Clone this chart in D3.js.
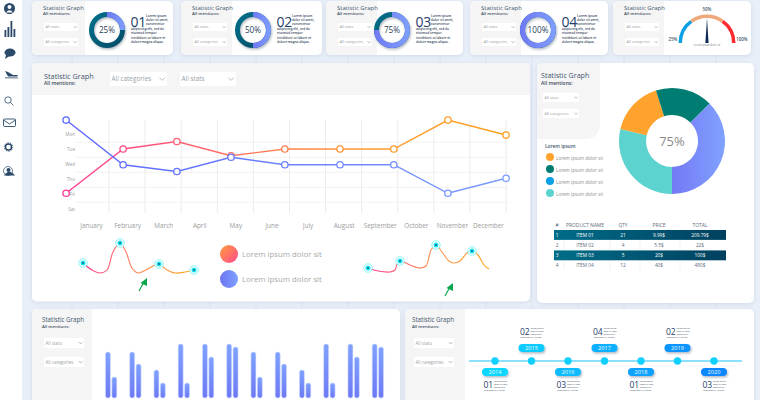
<!DOCTYPE html>
<html>
<head>
<meta charset="utf-8">
<script src="https://cdnjs.cloudflare.com/ajax/libs/d3/7.8.5/d3.min.js"></script>
<style>
html, body { margin: 0; padding: 0; background: #e9eff8; overflow: hidden; }
text { font-family: "Open Sans", sans-serif; }
</style>
</head>
<body>
<div id="chart"></div>
<script>
// line chart
const months = ["January","February","March","April","May","June","July","August","September","October","November","December"];
const days = ["Mon","Tue","Wed","Thu","Fri","Sat"];
const pointMonth = [-0.69,0.89,2.38,3.88,5.37,6.9,8.39,9.89,11.5];
const blueDay = [-0.93,2.05,2.5,1.55,2.05,2.05,2.05,3.95,2.95];
const warmDay = [3.95,1,0.5,1.45,1,1,1,-0.93,0.07];

// small curves under the line chart
const sparkAX = [0,9,17,24,30,37,43,49,55,63,76,84,92,102,111];
const sparkAY = [10,3,0,3,21,30,21,5,0,3,9,3,0,1,3];
const sparkAMarks = [0,5,10,14];
const sparkBX = [0,10,22,27,29,32,42,52,58,63,68,74,81,86,92,99,104,110,116,121];
const sparkBY = [4,1,0,2,8,11,7,4,6,22,27,20,11,9,11,19,21,17,7,3];
const sparkBMarks = [0,5,10,16];
const legendLabels = ["Lorem ipsum dolor sit","Lorem ipsum dolor sit"];

// donut cards
const donutPct = [25,50,75,100];
const donutNum = ["01","02","03","04"];
const blurb = ["Lorem ipsum","dolor sit amet,","consectetur","adipiscing elit, sed do","eiusmod tempor","incididunt ut labore et","dolore magna aliqua."];

// gauge
const gaugeStops = [0,30,70,100];
const gaugeColors = ["#0a9fe4","#efa87a","#ff2b30"];

// pie
const pieValues = [37.5,28.6,16.5,17.4];
const pieColors = ["url(#gPie)","#5dd3cf","#ffa32e","#007d72"];
const pieLegendColors = ["#ffa32e","#007d72","#0aa0e6","#5dd3cf"];

// table
const tableHead = ["#","PRODUCT NAME","QTY","PRICE","TOTAL"];
const tableRows = [
  ["1","ITEM 01","21","9.99$","209.79$"],
  ["2","ITEM 02","4","5.5$","22$"],
  ["3","ITEM 03","5","20$","100$"],
  ["4","ITEM 04","12","40$","480$"]
];

// bars
const barA = [46,46,28,54,54,54,46,46,28,54,54,54];
const barB = [21,34,15,15,41,51,21,34,15,15,41,51];

// timeline
const years = ["2014","2015","2016","2017","2018","2019","2020"];
const yearNum = ["01","02","03","04","01","02","03"];
const pillColors = ["#0ad6ff","#0acbff","#0abcff","#0aafff","#0aa2ff","#0a95ff","#0a88ff"];

const W = 760, H = 400;
const svg = d3.select("#chart").append("svg").attr("width", W).attr("height", H).style("display","block");
const defs = svg.append("defs");

function gradient(id, stops, x1, y1, x2, y2, user) {
  const g = defs.append("linearGradient").attr("id", id)
    .attr("x1", x1).attr("y1", y1).attr("x2", x2).attr("y2", y2);
  if (user) g.attr("gradientUnits", "userSpaceOnUse");
  stops.forEach((c, i) => g.append("stop").attr("offset", i / (stops.length - 1)).attr("stop-color", c));
}
gradient("gWarm", ["#ff3a94","#ff6a6a","#ff9a30","#ff9f20"], 66, 0, 506, 0, true);
gradient("gBlue", ["#5c66ff","#7a9cff"], 66, 0, 506, 0, true);
gradient("gSparkA", ["#ff3a94","#ff8a50","#ffa820"], 83, 0, 194, 0, true);
gradient("gSparkB", ["#ff3a94","#ff8a50","#ffa820"], 368, 0, 489, 0, true);
gradient("gLegA", ["#ff9d3a","#ff4a90"], "0%", "0%", "100%", "100%");
gradient("gLegB", ["#6c74f0","#7fa2ff"], "0%", "0%", "100%", "0%");
gradient("gPie", ["#7478f5","#80a2ff"], 0, 0, 53, 0, true);
gradient("gBar", ["#7fa2ff","#6d78f5"], "0%", "0%", "0%", "100%");
gradient("gRow", ["#006d88","#00405f"], "0%", "0%", "100%", "0%");
gradient("gDonut", ["#00738c","#004a66"], "0%", "0%", "100%", "100%");
gradient("gDonutBlue", ["#7078f5","#7f9fff"], "0%", "0%", "100%", "0%");

const shadow = defs.append("filter").attr("id", "soft").attr("x", "-20%").attr("y", "-20%").attr("width", "140%").attr("height", "140%");
shadow.append("feDropShadow").attr("dx", 0).attr("dy", 1).attr("stdDeviation", 2).attr("flood-color", "#9fb0c8").attr("flood-opacity", 0.35);
const shadowDark = defs.append("filter").attr("id", "softDark").attr("x", "-30%").attr("y", "-30%").attr("width", "160%").attr("height", "170%");
shadowDark.append("feDropShadow").attr("dx", 1).attr("dy", 1.5).attr("stdDeviation", 1).attr("flood-color", "#54657c").attr("flood-opacity", 0.45);

// page background
svg.append("rect").attr("width", W).attr("height", H).attr("fill", "#e9eff8");
svg.selectAll("line.bg").data(d3.range(72, W, 46)).join("line")
  .attr("x1", d => d).attr("x2", d => d).attr("y1", 0).attr("y2", H)
  .attr("stroke", "#d9e2ee").attr("stroke-width", 0.8);
svg.append("rect").attr("width", 22).attr("height", H).attr("fill", "#fff");

let clipCount = 0;
function panel(x, y, w, h, grayW, grayH) {
  const id = "clip" + (clipCount++);
  defs.append("clipPath").attr("id", id).append("rect")
    .attr("x", x).attr("y", y).attr("width", w).attr("height", h).attr("rx", 5);
  svg.append("rect").attr("x", x).attr("y", y).attr("width", w).attr("height", h).attr("rx", 5)
    .attr("fill", "#fff").attr("filter", "url(#soft)");
  svg.append("rect").attr("clip-path", `url(#${id})`)
    .attr("x", x).attr("y", y).attr("width", grayW).attr("height", grayH).attr("fill", "#f5f5f5");
}

function dropdown(x, y, w, h, label, size) {
  svg.append("rect").attr("x", x).attr("y", y).attr("width", w).attr("height", h).attr("rx", 1).attr("fill", "#fff");
  svg.append("text").attr("x", x + 1.5).attr("y", y + h / 2 + size * 0.36)
    .attr("font-size", size).attr("fill", "#9a9fa6").text(label);
  const cx = x + w - size * 0.75, cy = y + h / 2, s = size * 0.42;
  svg.append("path").attr("d", `M${cx - s},${cy - s * 0.5}L${cx},${cy + s * 0.5}L${cx + s},${cy - s * 0.5}`)
    .attr("fill", "none").attr("stroke", "#8a9098").attr("stroke-width", 0.6);
}

function title(x, y, size, subSize, gap) {
  svg.append("text").attr("x", x).attr("y", y).attr("font-size", size).attr("fill", "#43566e").text("Statistic Graph");
  svg.append("text").attr("x", x).attr("y", y + gap).attr("font-size", subSize).attr("font-weight", 600).attr("fill", "#3d4c60").text("All mentions:");
}

// top cards
const cardX = [32,181,326,470,613];
const cardW = [141,141,137,138,138];
const cardGray = [53,51,51,51,51];
cardX.forEach((x, i) => {
  panel(x, 1, cardW[i], 54, cardGray[i], 54);
  title(x + 11, 9.5, 6, 4.3, 5.5);
  dropdown(x + 12, 23, 34, 8, "All stats", 3.8);
  dropdown(x + 12, 38, 34, 8, "All categories", 3.8);
});

// donuts
const donutX = [107,253,392,538];
const donutArc = d3.arc().innerRadius(13).outerRadius(18);
const pctAngle = d3.scaleLinear().domain([0,100]).range([0, 2 * Math.PI]);
donutPct.forEach((p, i) => {
  const g = svg.append("g").attr("transform", `translate(${donutX[i]},30)`);
  const ring = g.append("g").attr("filter", "url(#softDark)");
  ring.append("path").attr("d", donutArc({startAngle: 0, endAngle: 2 * Math.PI})).attr("fill", "url(#gDonut)");
  ring.append("path").attr("d", donutArc({startAngle: 0, endAngle: pctAngle(p)})).attr("fill", "url(#gDonutBlue)");
  g.append("text").attr("text-anchor", "middle").attr("y", 3).attr("font-size", 8.2)
    .attr("font-family", "Roboto").attr("fill", "#2a3f5c").text(p + "%");
  g.append("text").attr("x", 23.5).attr("y", -3.5).attr("font-size", 14).attr("letter-spacing", -0.3).attr("fill", "#24406a").text(donutNum[i]);
  blurb.forEach((t, j) => {
    g.append("text").attr("x", j < 3 ? 39 : 24).attr("y", [-13,-9,-5,0,4,9,13][j])
      .attr("font-size", 3.2).attr("font-weight", 600).attr("fill", "#33465e").text(t);
  });
});

// gauge
const gaugeAngle = d3.scaleLinear().domain([0,100]).range([-Math.PI / 2, Math.PI / 2]);
const gaugeArc = d3.arc().innerRadius(25).outerRadius(28.5);
const gauge = svg.append("g").attr("transform", "translate(707,43)");
gaugeColors.forEach((c, i) => {
  gauge.append("path").attr("fill", c)
    .attr("d", gaugeArc({startAngle: gaugeAngle(gaugeStops[i]), endAngle: gaugeAngle(gaugeStops[i + 1])}));
});
gauge.append("path").attr("d", "M-1.6,0L0,-25L1.6,0Z").attr("fill", "#0b2a55");
[["50%",0,-32],["25%",-34,-2],["100%",35,-2]].forEach(d => {
  gauge.append("text").attr("x", d[1]).attr("y", d[2]).attr("text-anchor", "middle")
    .attr("font-size", 4.4).attr("font-weight", 600).attr("fill", "#44566c").text(d[0]);
});
gauge.append("text").attr("y", 3).attr("text-anchor", "middle").attr("font-size", 2.6).attr("fill", "#6d7785").text("Lorem ipsum dolor sit");

// main panel
panel(32, 63, 498, 238.5, 498, 32);
title(44, 79, 7.3, 5, 6);
dropdown(110, 72, 57, 14, "All categories", 6.4);
dropdown(180, 72, 56, 14, "All stats", 6.4);

const x = d3.scaleLinear().domain([0, 11]).range([91, 488]);
const y = d3.scaleLinear().domain([0, 5]).range([134, 209]);

svg.append("g").selectAll("line").data(d3.range(0, 12)).join("line")
  .attr("x1", d => x(d + 0.5)).attr("x2", d => x(d + 0.5)).attr("y1", 120).attr("y2", 213)
  .attr("stroke", "#e6e6e6").attr("stroke-width", 0.8);
svg.append("g").selectAll("line").data(d3.range(0, 5)).join("line")
  .attr("x1", 75).attr("x2", 508).attr("y1", d => y(d + 0.55)).attr("y2", d => y(d + 0.55))
  .attr("stroke", "#efefef").attr("stroke-width", 0.8);

const axisX = svg.append("g").attr("transform", "translate(0,225)")
  .call(d3.axisBottom(x).tickValues(d3.range(0, 12)).tickFormat(i => months[i]).tickSize(0));
axisX.select(".domain").remove();
axisX.selectAll("text").attr("font-family", "Open Sans").attr("font-size", 6.4).attr("fill", "#9b9b9b").attr("dy", 0);

const axisY = svg.append("g").attr("transform", "translate(78,0)")
  .call(d3.axisLeft(y).tickValues(d3.range(0, 6)).tickFormat(i => days[i]).tickSize(0));
axisY.select(".domain").remove();
axisY.selectAll("text").attr("font-family", "Open Sans").attr("font-size", 4.6).attr("fill", "#9b9b9b");

function drawSeries(values, color) {
  const pts = values.map((v, i) => [x(pointMonth[i]), y(v)]);
  svg.append("path").attr("d", d3.line()(pts)).attr("fill", "none").attr("stroke", color).attr("stroke-width", 1.4);
  svg.append("g").selectAll("circle").data(pts).join("circle")
    .attr("cx", d => d[0]).attr("cy", d => d[1]).attr("r", 3.2)
    .attr("fill", "#fff").attr("stroke", color).attr("stroke-width", 1.3);
}
drawSeries(warmDay, "url(#gWarm)");
drawSeries(blueDay, "url(#gBlue)");

// small curves
function spark(xs, ys, marks, x0, x1, yLow, yHigh, top, color) {
  const sx = d3.scaleLinear().domain([0, d3.max(xs)]).range([x0, x1]);
  const sy = d3.scaleLinear().domain([0, top]).range([yLow, yHigh]);
  const pts = xs.map((v, i) => [sx(v), sy(ys[i])]);
  svg.append("path").attr("d", d3.line().curve(d3.curveCatmullRom.alpha(0.5))(pts))
    .attr("fill", "none").attr("stroke", color).attr("stroke-width", 1.1);
  const g = svg.append("g").selectAll("g").data(marks).join("g")
    .attr("transform", d => `translate(${pts[d][0]},${pts[d][1]})`);
  g.append("circle").attr("r", 4.2).attr("fill", "#fff").attr("stroke", "#4ff2ee").attr("stroke-width", 0.7);
  g.append("circle").attr("r", 2.5).attr("fill", "#1de4f0");
  g.append("circle").attr("r", 0.9).attr("fill", "#0b5a80");
}
spark(sparkAX, sparkAY, sparkAMarks, 83, 194, 273, 243, 30, "url(#gSparkA)");
spark(sparkBX, sparkBY, sparkBMarks, 368, 489, 272, 245, 27, "url(#gSparkB)");

function arrow(xa, ya) {
  const g = svg.append("g").attr("transform", `translate(${xa},${ya})`);
  g.append("line").attr("x1", 0).attr("y1", 0).attr("x2", 5).attr("y2", -9).attr("stroke", "#0aa64e").attr("stroke-width", 1.2);
  g.append("path").attr("d", "M1.5,-8L8,-13L8,-5Z").attr("fill", "#0aa64e");
}
arrow(139, 291);
arrow(445, 296);

legendLabels.forEach((t, i) => {
  const ly = 254 + i * 25;
  svg.append("circle").attr("cx", 229).attr("cy", ly).attr("r", 9).attr("fill", i ? "url(#gLegB)" : "url(#gLegA)");
  svg.append("text").attr("x", 242).attr("y", ly + 3).attr("font-size", 7.8).attr("fill", "#a9a9a9").text(t);
});

// pie panel
svg.append("rect").attr("x", 537).attr("y", 63).attr("width", 217).attr("height", 240).attr("rx", 5)
  .attr("fill", "#fff").attr("filter", "url(#soft)");
const pieBox = d3.path();
pieBox.moveTo(542, 63);
pieBox.lineTo(600, 63);
pieBox.lineTo(600, 125);
pieBox.arcTo(600, 139, 586, 139, 14);
pieBox.lineTo(537, 139);
pieBox.lineTo(537, 68);
pieBox.arcTo(537, 63, 542, 63, 5);
pieBox.closePath();
svg.append("path").attr("d", pieBox.toString()).attr("fill", "#f5f5f5");
title(541, 78, 7.1, 5, 6.5);
dropdown(543, 93, 36, 9, "All stats", 3.9);
dropdown(543, 109, 36, 9, "All categories", 3.9);

const pie = d3.pie().sort(null).startAngle(Math.PI / 4).endAngle(Math.PI / 4 + 2 * Math.PI);
const pieArc = d3.arc().innerRadius(26).outerRadius(53);
const pieG = svg.append("g").attr("transform", "translate(672,141)");
pieG.selectAll("path").data(pie(pieValues)).join("path")
  .attr("d", pieArc).attr("fill", (d, i) => pieColors[i]);
pieG.append("text").attr("text-anchor", "middle").attr("y", 5).attr("font-size", 13)
  .attr("font-family", "Roboto").attr("fill", "#8a8a8a").text("75%");

svg.append("text").attr("x", 545).attr("y", 148).attr("font-size", 4.8).attr("font-weight", 600).attr("fill", "#43566e").text("Lorem ipsum");
pieLegendColors.forEach((c, i) => {
  const ly = 157 + i * 12;
  svg.append("circle").attr("cx", 550).attr("cy", ly).attr("r", 4).attr("fill", c);
  svg.append("text").attr("x", 556).attr("y", ly + 3).attr("font-size", 4.6).attr("fill", "#8d8d8d").text("Lorem ipsum  dolor sit");
});

// table
const colX = [557,585,623,659,700];
const rowY = d3.scaleBand().domain(d3.range(0, 4)).range([230, 270.5]).paddingInner(0.03);
tableHead.forEach((t, i) => {
  svg.append("text").attr("x", colX[i]).attr("y", 227).attr("text-anchor", "middle")
    .attr("font-size", 4.9).attr("fill", "#5d6a78").text(t);
});
tableRows.forEach((row, r) => {
  const top = rowY(r);
  if (r % 2 === 0) {
    svg.append("rect").attr("x", 554).attr("y", top).attr("width", 172).attr("height", rowY.bandwidth()).attr("fill", "url(#gRow)");
  } else {
    [564,610,640,680].forEach(sx => {
      svg.append("line").attr("x1", sx).attr("x2", sx).attr("y1", top).attr("y2", top + rowY.bandwidth())
        .attr("stroke", "#dfe3e8").attr("stroke-width", 0.5);
    });
  }
  row.forEach((t, i) => {
    svg.append("text").attr("x", colX[i]).attr("y", top + rowY.bandwidth() / 2 + 1.7).attr("text-anchor", "middle")
      .attr("font-size", 4.8).attr("fill", r % 2 === 0 ? "#fff" : "#5d6a78").text(t);
  });
});

// bars panel
panel(32, 309, 368, 100, 60, 100);
title(42, 322, 6.2, 4.3, 6);
dropdown(44, 338, 40, 10, "All stats", 4.5);
dropdown(44, 357, 40, 10, "All categories", 4.5);

const bandX = d3.scaleBand().domain(d3.range(0, 12)).range([99, 390]);
const barY = d3.scaleLinear().domain([0, 54]).range([398, 344]);
[barA, barB].forEach((vals, s) => {
  svg.append("g").selectAll("rect").data(vals).join("rect")
    .attr("x", (d, i) => bandX(i) + bandX.bandwidth() / 2 + (s ? 0.7 : -5.7))
    .attr("y", d => barY(d))
    .attr("width", 5)
    .attr("height", d => barY(0) - barY(d))
    .attr("rx", 2.2)
    .attr("fill", "url(#gBar)")
    .attr("stroke", "#d5e0ff").attr("stroke-width", 0.6);
});

// timeline panel
panel(405, 309, 349, 100, 60, 100);
title(412, 322, 6.2, 4.3, 6);
dropdown(414, 338, 40, 10, "All stats", 4.5);
dropdown(414, 357, 40, 10, "All categories", 4.5);

const timeX = d3.scalePoint().domain(years).range([495, 714]);
svg.append("line").attr("x1", 469).attr("x2", 742).attr("y1", 361).attr("y2", 361).attr("stroke", "#19c2ff").attr("stroke-width", 1);
const smallLines = ["Lorem ipsum","dolor sit amet,","consectetur","adipiscing elit, sed do"];
years.forEach((yr, i) => {
  const cx = timeX(yr);
  const below = i % 2 === 0;
  svg.append("circle").attr("cx", cx).attr("cy", 361).attr("r", 3.7).attr("fill", "#0fd0ff");
  const py = below ? 372 : 348;
  svg.append("rect").attr("x", cx - 13).attr("y", py - 4).attr("width", 26).attr("height", 8).attr("rx", 4)
    .attr("fill", pillColors[i]).attr("filter", "url(#softDark)");
  svg.append("text").attr("x", cx).attr("y", py + 2).attr("text-anchor", "middle").attr("font-size", 5.6).attr("fill", "#e8fbff").text(yr);
  const ny = below ? 388 : 335;
  svg.append("text").attr("x", cx - 11.5).attr("y", ny).attr("font-size", 8.5).attr("letter-spacing", -0.2).attr("fill", "#24406a").text(yearNum[i]);
  smallLines.forEach((t, j) => {
    svg.append("text").attr("x", j < 3 ? cx - 1 : cx - 11).attr("y", j < 3 ? ny - 6 + j * 2.8 : ny + 2.8)
      .attr("font-size", 2.1).attr("fill", "#33465e").text(t);
  });
});

// sidebar icons
const icon = svg.append("g").attr("fill", "#2b4a6a");
icon.append("circle").attr("cx", 9.5).attr("cy", 8.5).attr("r", 5.5);
icon.append("circle").attr("cx", 9.5).attr("cy", 7).attr("r", 2).attr("fill", "#fff");
icon.append("path").attr("d", "M6,12.5Q9.5,8 13,12.5Z").attr("fill", "#fff");
[[4.5,30],[7.5,27],[10.5,21],[13.5,29]].forEach(b => {
  icon.append("rect").attr("x", b[0]).attr("y", b[1]).attr("width", 1.8).attr("height", 37 - b[1]);
});
icon.append("ellipse").attr("cx", 10).attr("cy", 52.5).attr("rx", 5.5).attr("ry", 4);
icon.append("path").attr("d", "M6,55L5,59L9.5,56Z");
icon.append("path").attr("d", "M5,71L8,72L13,75L18,75L17,76.5L8,76.5Z");
icon.append("rect").attr("x", 5).attr("y", 77.5).attr("width", 13).attr("height", 0.8);
icon.append("circle").attr("cx", 8).attr("cy", 100).attr("r", 3.2).attr("fill", "none").attr("stroke", "#2b4a6a").attr("stroke-width", 0.8);
icon.append("line").attr("x1", 10.4).attr("y1", 102.4).attr("x2", 13.5).attr("y2", 105.5).attr("stroke", "#2b4a6a").attr("stroke-width", 0.8);
icon.append("rect").attr("x", 3.5).attr("y", 119).attr("width", 12).attr("height", 7.5).attr("rx", 1).attr("fill", "none").attr("stroke", "#2b4a6a").attr("stroke-width", 0.9);
icon.append("path").attr("d", "M3.5,120L9.5,124L15.5,120").attr("fill", "none").attr("stroke", "#2b4a6a").attr("stroke-width", 0.9);
icon.append("circle").attr("cx", 8.5).attr("cy", 147).attr("r", 3).attr("fill", "none").attr("stroke", "#2b4a6a").attr("stroke-width", 1.4);
icon.append("circle").attr("cx", 8.5).attr("cy", 147).attr("r", 4.2).attr("fill", "none").attr("stroke", "#2b4a6a").attr("stroke-width", 1).attr("stroke-dasharray", "1.3 1.3");
icon.append("circle").attr("cx", 8).attr("cy", 171).attr("r", 4.5).attr("fill", "none").attr("stroke", "#2b4a6a").attr("stroke-width", 0.7);
icon.append("circle").attr("cx", 8.5).attr("cy", 170).attr("r", 2);
icon.append("path").attr("d", "M4,175.5Q9,168 15,175.5Z");
</script>
</body>
</html>
